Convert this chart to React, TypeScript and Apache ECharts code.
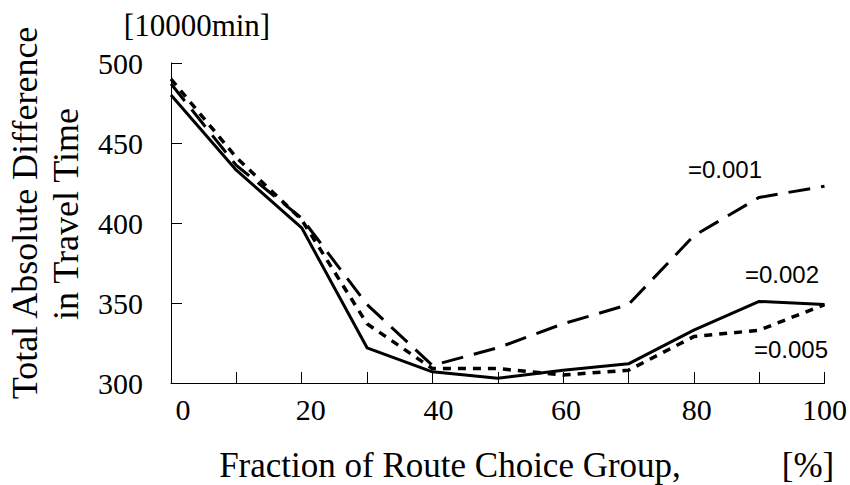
import React, { useEffect, useRef } from "react";
import * as echarts from "echarts";

const fractions = [0, 10, 20, 30, 40, 50, 60, 70, 80, 90, 100];
const series001 = [487, 436, 403, 349, 311, 322, 337, 349, 392, 416, 423];
const series002 = [480, 433, 397, 322, 307, 303, 308, 312, 333, 351, 349];
const series005 = [490, 441, 402, 337, 309, 309, 305, 308, 329, 333, 349];
const seriesNames = ["=0.001", "=0.002", "=0.005"];
const yTitleLines = ["Total Absolute Difference", "in Travel Time"];
const xTitle = "Fraction of Route Choice Group,";
const xUnit = "[%]";
const yUnit = "[10000min]";

const serif = "'Liberation Serif', 'Times New Roman', serif";
const sans = "'Liberation Sans', Arial, sans-serif";

// horizontal nudge of each x tick label (as in the reference)
const xLabelShift: Record<number, number> = { 0: 12, 20: 9, 40: 6, 60: 3, 80: 3, 100: 0 };

export default function App() {
  const ref = useRef<HTMLDivElement>(null);
  useEffect(() => {
    if (!ref.current) return;
    const chart = echarts.init(ref.current, null, { renderer: "svg" });
    const toPairs = (arr: number[]) => fractions.map((f, i) => [f, arr[i]]);
    const rich: Record<string, any> = {};
    Object.keys(xLabelShift).forEach((k) => {
      const s = xLabelShift[Number(k)];
      rich["l" + k] = {
        fontFamily: serif,
        fontSize: 30,
        color: "#000",
        padding: [0, 0, 0, 2 * s],
      };
    });
    const txt = (text: string, x: number, y: number, font: string, rotation = 0) => ({
      type: "text",
      x,
      y,
      rotation,
      style: { text, font, fill: "#000", align: "center", verticalAlign: "middle" },
    });
    chart.setOption({
      animation: false,
      backgroundColor: "#ffffff",
      grid: { left: 171, right: 23, top: 63, bottom: 102 },
      xAxis: {
        type: "value",
        min: 0,
        max: 100,
        interval: 10,
        axisLine: { show: true, lineStyle: { color: "#000", width: 1 } },
        axisTick: { show: true, inside: true, length: 11, lineStyle: { color: "#000" } },
        splitLine: { show: false },
        axisLabel: {
          color: "#000",
          fontFamily: serif,
          fontSize: 30,
          margin: 11,
          showMinLabel: true,
          showMaxLabel: true,
          hideOverlap: false,
          formatter: (v: number) => (v % 20 === 0 ? `{l${v}|${v}}` : ""),
          rich,
        },
      },
      yAxis: {
        type: "value",
        min: 300,
        max: 500,
        interval: 50,
        axisLine: { show: true, lineStyle: { color: "#000", width: 1 } },
        axisTick: { show: true, inside: true, length: 11, lineStyle: { color: "#000" } },
        splitLine: { show: false },
        axisLabel: { color: "#000", fontFamily: serif, fontSize: 30, margin: 28 },
      },
      series: [
        {
          name: seriesNames[0],
          type: "line",
          data: toPairs(series001),
          symbol: "none",
          lineStyle: { color: "#000", width: 3, type: [22, 11] },
        },
        {
          name: seriesNames[1],
          type: "line",
          data: toPairs(series002),
          symbol: "none",
          lineStyle: { color: "#000", width: 3, type: "solid" },
        },
        {
          name: seriesNames[2],
          type: "line",
          data: toPairs(series005),
          symbol: "none",
          lineStyle: { color: "#000", width: 3.5, type: [8, 7] },
        },
      ],
      graphic: [
        txt(yTitleLines[0], 25, 213, `36px ${serif}`, Math.PI / 2),
        txt(yTitleLines[1], 66, 214, `36px ${serif}`, Math.PI / 2),
        txt(yUnit, 197, 25, `31px ${serif}`),
        txt(xTitle, 450, 465, `35px ${serif}`),
        txt(xUnit, 808, 465, `35px ${serif}`),
        txt(seriesNames[0], 725, 169, `24px ${sans}`),
        txt(seriesNames[1], 782, 274, `24px ${sans}`),
        txt(seriesNames[2], 791, 349, `24px ${sans}`),
      ],
    });
    return () => chart.dispose();
  }, []);
  return (
    <div
      ref={ref}
      style={{ position: "fixed", left: 0, top: 0, width: 850, height: 485, background: "#fff" }}
    />
  );
}
